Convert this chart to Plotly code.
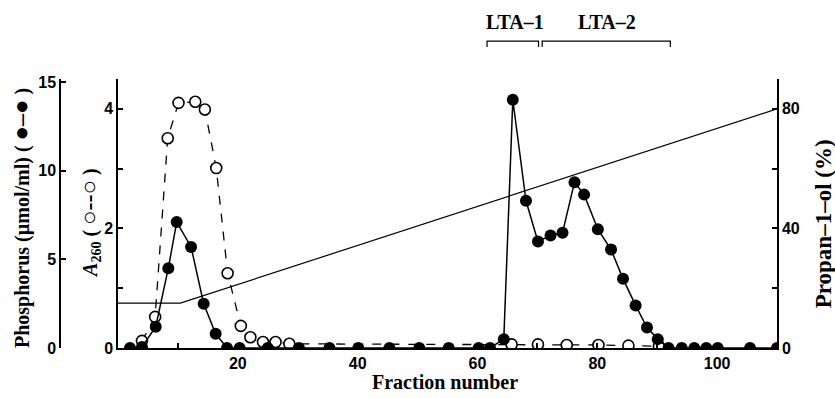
import plotly.graph_objects as go

# Phosphorus (umol/ml), filled circles
phos_fraction = [2, 4, 6.3, 8.4, 9.8, 12.2, 14.3, 16.3, 18.2, 20.3, 25, 30.2, 35.3, 40.1,
                 45.3, 50.3, 55.2, 60.2, 62.1, 64.4, 65.9, 68.1, 70.1, 72.2, 74.2, 76.2,
                 77.8, 80.1, 82.3, 84.3, 86.4, 88.3, 90.1, 91.9, 94.1, 96.2, 98.2, 100.1,
                 105.5, 110]
phos_value = [0, 0.05, 1.2, 4.5, 7.1, 5.7, 2.5, 0.8, 0, 0, 0, 0, 0, 0,
              0, 0, 0, 0, 0, 0.5, 14.0, 8.3, 6.0, 6.35, 6.5, 9.35,
              8.65, 6.7, 5.55, 3.9, 2.4, 1.15, 0.5, 0, 0, 0, 0, 0,
              0, 0]

# A260, open circles
a260_fraction = [4, 6.2, 8.3, 10.1, 12.9, 14.5, 16.4, 18.3, 20.5, 22.1, 24.2, 26.3, 28.6,
                 65.7, 70.1, 74.9, 80.2, 85.2, 90.3]
a260_value = [0.12, 0.52, 3.51, 4.1, 4.12, 3.99, 3.01, 1.25, 0.37, 0.18, 0.1, 0.1, 0.07,
              0.06, 0.06, 0.05, 0.05, 0.04, 0.03]

# Propan-1-ol gradient (%)
prop_fraction = [0, 10.4, 110]
prop_value = [15, 15, 80]

# Pooled fractions
pool_names = ["LTA\u20131", "LTA\u20132"]
pool_start = [61.6, 70.8]
pool_end = [70.2, 92.2]
pool_label_x = [66.3, 81.6]

x_ticks = [10, 20, 30, 40, 50, 60, 70, 80, 90, 100, 110]
x_ticktext = ["", "20", "", "40", "", "60", "", "80", "", "100", ""]
a_ticks = [0, 1, 2, 3, 4]
a_ticktext = ["0", "", "2", "", "4"]
p_ticks = [0, 5, 10, 15]
pr_ticks = [0, 20, 40, 60, 80]
pr_ticktext = ["0", "", "40", "", "80"]

SERIF = "Liberation Serif"
SANS = "Liberation Sans"
tickfont = dict(family=SANS, size=16, color="black", weight="bold")
titlefont = dict(family=SERIF, size=20, color="black", weight="bold")

fig = go.Figure()

fig.add_trace(go.Scatter(x=prop_fraction, y=prop_value, yaxis="y2", mode="lines",
                         line=dict(color="black", width=1.2), showlegend=False))
fig.add_trace(go.Scatter(x=a260_fraction, y=a260_value, yaxis="y", mode="lines+markers",
                         line=dict(color="black", width=1.3, dash="dash"),
                         marker=dict(symbol="circle", size=11, color="white",
                                     line=dict(color="black", width=1.6)),
                         showlegend=False))
fig.add_trace(go.Scatter(x=phos_fraction, y=phos_value, yaxis="y3", mode="lines+markers",
                         line=dict(color="black", width=1.5),
                         marker=dict(symbol="circle", size=12, color="black"),
                         showlegend=False))

plot_w = 777.0
shapes = []
for s, e in zip(pool_start, pool_end):
    shapes.append(dict(type="path", xref="x", yref="paper",
                       path=f"M {s},1.119 L {s},1.141 L {e},1.141 L {e},1.119",
                       line=dict(color="black", width=1.2)))

annotations = []
for name, lx in zip(pool_names, pool_label_x):
    annotations.append(dict(x=lx, y=1.212, xref="x", yref="paper", text=name,
                            xanchor="center", yanchor="middle", showarrow=False, font=titlefont))

big = "<span style='font-size:24px'>"
annotations += [
    dict(x=21 / plot_w, y=0.483, xref="paper", yref="paper", textangle=-90,
         xanchor="center", yanchor="middle",
         text="Phosphorus (µmol/ml) ( " + big + "\u25cf\u2013\u25cf</span> )", showarrow=False,
         font=titlefont),
    dict(x=90 / plot_w, y=0.465, xref="paper", yref="paper", textangle=-90,
         xanchor="center", yanchor="middle",
         text="<i>A</i><sub>260</sub> ( " + big + "\u25cb--\u25cb</span> )", showarrow=False,
         font=titlefont),
    dict(x=823 / plot_w, y=0.46, xref="paper", yref="paper", textangle=-90,
         xanchor="center", yanchor="middle",
         text="Propan\u20131\u2013ol (%)", showarrow=False,
         font=dict(family=SERIF, size=23, color="black", weight="bold")),
    dict(x=445 / plot_w, y=-0.126, xref="paper", yref="paper",
         xanchor="center", yanchor="middle",
         text="Fraction number", showarrow=False, font=titlefont),
]

fig.update_layout(
    width=835, height=398,
    margin=dict(l=0, r=58, t=79, b=50),
    paper_bgcolor="white", plot_bgcolor="white",
    showlegend=False,
    xaxis=dict(domain=[118 / plot_w, 1], range=[0, 110], tickvals=x_ticks, ticktext=x_ticktext,
               ticks="inside", ticklen=5, tickcolor="black", tickwidth=1.5,
               showline=True, linecolor="black", linewidth=2, showgrid=False, zeroline=False,
               tickfont=tickfont, anchor="y"),
    yaxis=dict(range=[0, 4.5], tickvals=a_ticks, ticktext=a_ticktext, ticks="inside", ticklen=5,
               tickcolor="black", tickwidth=1.5, showline=True, linecolor="black", linewidth=1.5,
               showgrid=False, zeroline=False, tickfont=tickfont, anchor="x"),
    yaxis2=dict(range=[0, 90], tickvals=pr_ticks, ticktext=pr_ticktext, ticks="inside", ticklen=5,
                tickcolor="black", tickwidth=1.5, showline=True, linecolor="black", linewidth=1.5,
                showgrid=False, zeroline=False, tickfont=tickfont, overlaying="y", side="right",
                anchor="x"),
    yaxis3=dict(range=[0, 15.17], tickvals=p_ticks, ticks="inside", ticklen=5,
                tickcolor="black", tickwidth=1.5, showline=True, linecolor="black", linewidth=1.5,
                showgrid=False, zeroline=False, tickfont=tickfont, overlaying="y", side="left",
                anchor="free", position=60 / plot_w),
    shapes=shapes,
    annotations=annotations,
)

fig.write_html("out.html", config={"displayModeBar": False},
               post_script="document.body.style.margin='0';document.body.style.overflow='hidden';")
